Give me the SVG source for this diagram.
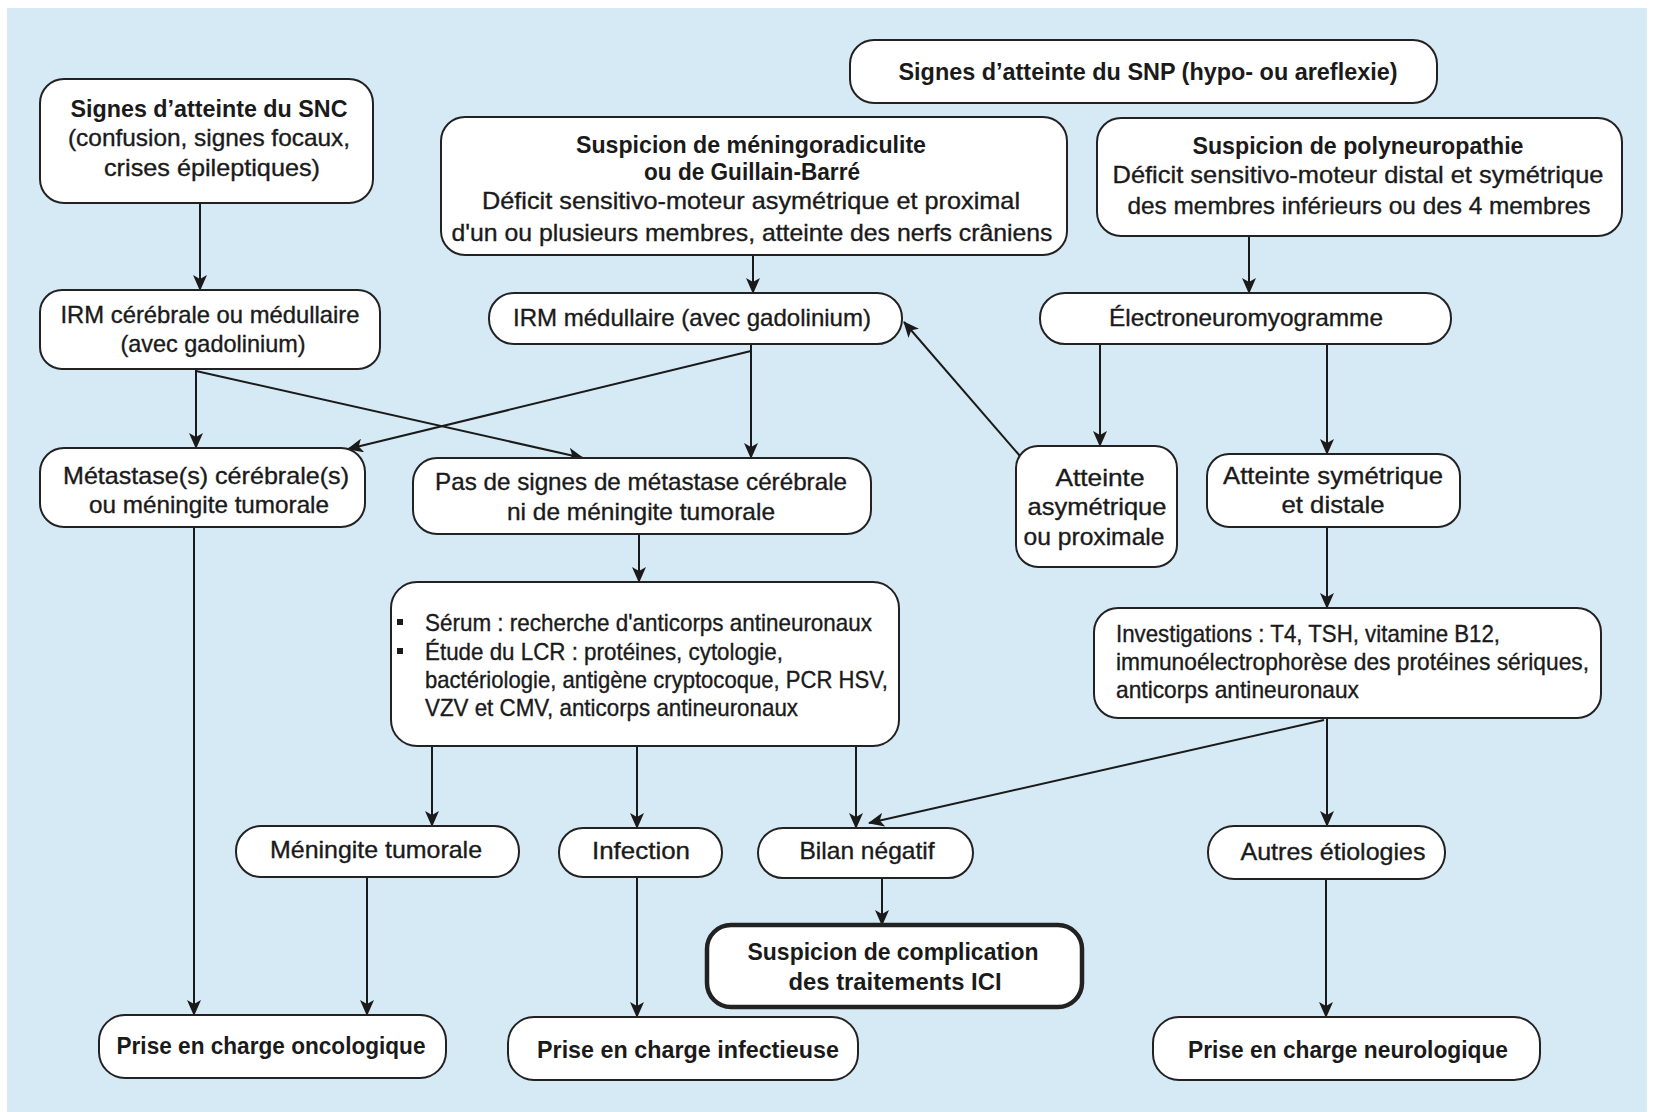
<svg xmlns="http://www.w3.org/2000/svg" width="1654" height="1112" viewBox="0 0 1654 1112">
<defs>
<style>
.bx{fill:#fff;stroke:#222;stroke-width:2}
.thick{stroke-width:4.5}
text{font-family:"Liberation Sans",Arial,sans-serif;font-size:24px;fill:#1a1a1a;stroke:#1a1a1a;stroke-width:0.35}
.c{text-anchor:middle}
.b{font-weight:bold;stroke-width:0}
.cn path{fill:none;stroke:#1a1a1a;stroke-width:2;marker-end:url(#ah)}
</style>
<marker id="ah" viewBox="0 0 16 14" refX="15" refY="7" markerWidth="16" markerHeight="14" markerUnits="userSpaceOnUse" orient="auto">
<path d="M0,0 L16,7 L0,14 L4,7 z" fill="#1a1a1a"/>
</marker>
</defs>
<rect x="0" y="0" width="1654" height="1112" fill="#fff"/>
<rect x="7" y="8" width="1640" height="1104" fill="#d6eaf5"/>

<g id="connectors" class="cn">
<path d="M200,203 V290"/>
<path d="M753,255 V293"/>
<path d="M1249,236 V293"/>
<path d="M196,369 V448"/>
<path d="M196,371 L583,458"/>
<path d="M751,351 L348,449"/>
<path d="M751,344 V458"/>
<path d="M1020,456 L904,322"/>
<path d="M1100,344 V446"/>
<path d="M1327,344 V454"/>
<path d="M1327,527 V608"/>
<path d="M639,534 V582"/>
<path d="M194,527 V1015"/>
<path d="M432,746 V826"/>
<path d="M637,746 V828"/>
<path d="M856,746 V828"/>
<path d="M1324,720 L869,823"/>
<path d="M1327,718 V826"/>
<path d="M367,877 V1015"/>
<path d="M637,877 V1017"/>
<path d="M882,878 V925"/>
<path d="M1326,879 V1017"/>
</g>

<g id="n_snp">
<rect class="bx" x="850" y="40" width="587" height="63" rx="24"/>
<text class="c b" x="1148" y="80" textLength="499" lengthAdjust="spacingAndGlyphs">Signes d’atteinte du SNP (hypo- ou areflexie)</text>
</g>
<g id="n_snc">
<rect class="bx" x="40" y="79" width="333" height="124" rx="24"/>
<text class="c b" x="209" y="117" textLength="277" lengthAdjust="spacingAndGlyphs">Signes d’atteinte du SNC</text>
<text class="c" x="209" y="146" textLength="282" lengthAdjust="spacingAndGlyphs">(confusion, signes focaux,</text>
<text class="c" x="212" y="176" textLength="216" lengthAdjust="spacingAndGlyphs">crises épileptiques)</text>
</g>
<g id="n_meningo">
<rect class="bx" x="441" y="117" width="626" height="138" rx="24"/>
<text class="c b" x="751" y="153" textLength="350" lengthAdjust="spacingAndGlyphs">Suspicion de méningoradiculite</text>
<text class="c b" x="752" y="180" textLength="216" lengthAdjust="spacingAndGlyphs">ou de Guillain-Barré</text>
<text class="c" x="751" y="209" textLength="538" lengthAdjust="spacingAndGlyphs">Déficit sensitivo-moteur asymétrique et proximal</text>
<text class="c" x="752" y="241" textLength="601" lengthAdjust="spacingAndGlyphs">d'un ou plusieurs membres, atteinte des nerfs crâniens</text>
</g>
<g id="n_poly">
<rect class="bx" x="1097" y="118" width="525" height="118" rx="24"/>
<text class="c b" x="1358" y="154" textLength="331" lengthAdjust="spacingAndGlyphs">Suspicion de polyneuropathie</text>
<text class="c" x="1358" y="183" textLength="491" lengthAdjust="spacingAndGlyphs">Déficit sensitivo-moteur distal et symétrique</text>
<text class="c" x="1359" y="214" textLength="463" lengthAdjust="spacingAndGlyphs">des membres inférieurs ou des 4 membres</text>
</g>
<g id="n_irmc">
<rect class="bx" x="40" y="290" width="340" height="79" rx="22"/>
<text class="c" x="210" y="323" textLength="299" lengthAdjust="spacingAndGlyphs">IRM cérébrale ou médullaire</text>
<text class="c" x="213" y="352" textLength="185" lengthAdjust="spacingAndGlyphs">(avec gadolinium)</text>
</g>
<g id="n_irmm">
<rect class="bx" x="489" y="293" width="413" height="51" rx="25"/>
<text class="c" x="692" y="326" textLength="358" lengthAdjust="spacingAndGlyphs">IRM médullaire (avec gadolinium)</text>
</g>
<g id="n_enmg">
<rect class="bx" x="1040" y="293" width="411" height="51" rx="25"/>
<text class="c" x="1246" y="326" textLength="274" lengthAdjust="spacingAndGlyphs">Électroneuromyogramme</text>
</g>
<g id="n_meta">
<rect class="bx" x="40" y="448" width="325" height="79" rx="24"/>
<text class="c" x="206" y="484" textLength="286" lengthAdjust="spacingAndGlyphs">Métastase(s) cérébrale(s)</text>
<text class="c" x="209" y="513" textLength="240" lengthAdjust="spacingAndGlyphs">ou méningite tumorale</text>
</g>
<g id="n_pas">
<rect class="bx" x="413" y="458" width="458" height="76" rx="24"/>
<text class="c" x="641" y="490" textLength="412" lengthAdjust="spacingAndGlyphs">Pas de signes de métastase cérébrale</text>
<text class="c" x="641" y="520" textLength="268" lengthAdjust="spacingAndGlyphs">ni de méningite tumorale</text>
</g>
<g id="n_asym">
<rect class="bx" x="1016" y="446" width="161" height="121" rx="22"/>
<text class="c" x="1100" y="486" textLength="89" lengthAdjust="spacingAndGlyphs">Atteinte</text>
<text class="c" x="1097" y="515" textLength="139" lengthAdjust="spacingAndGlyphs">asymétrique</text>
<text class="c" x="1094" y="545" textLength="141" lengthAdjust="spacingAndGlyphs">ou proximale</text>
</g>
<g id="n_sym">
<rect class="bx" x="1207" y="454" width="253" height="73" rx="22"/>
<text class="c" x="1333" y="484" textLength="220" lengthAdjust="spacingAndGlyphs">Atteinte symétrique</text>
<text class="c" x="1333" y="513" textLength="103" lengthAdjust="spacingAndGlyphs">et distale</text>
</g>
<g id="n_serum">
<rect class="bx" x="391" y="582" width="508" height="164" rx="26"/>
<rect x="397" y="619" width="6" height="6" fill="#1a1a1a"/>
<rect x="397" y="648" width="6" height="6" fill="#1a1a1a"/>
<text x="425" y="631" textLength="447" lengthAdjust="spacingAndGlyphs">Sérum : recherche d'anticorps antineuronaux</text>
<text x="425" y="660" textLength="358" lengthAdjust="spacingAndGlyphs">Étude du LCR  : protéines, cytologie,</text>
<text x="425" y="688" textLength="463" lengthAdjust="spacingAndGlyphs">bactériologie, antigène cryptocoque, PCR HSV,</text>
<text x="425" y="716" textLength="373" lengthAdjust="spacingAndGlyphs">VZV et CMV, anticorps antineuronaux</text>
</g>
<g id="n_invest">
<rect class="bx" x="1094" y="608" width="507" height="110" rx="24"/>
<text x="1116" y="642" textLength="384" lengthAdjust="spacingAndGlyphs">Investigations  : T4, TSH, vitamine B12,</text>
<text x="1116" y="670" textLength="473" lengthAdjust="spacingAndGlyphs">immunoélectrophorèse des protéines sériques,</text>
<text x="1116" y="698" textLength="243" lengthAdjust="spacingAndGlyphs">anticorps antineuronaux</text>
</g>
<g id="n_mtum">
<rect class="bx" x="236" y="826" width="283" height="51" rx="25"/>
<text class="c" x="376" y="858" textLength="212" lengthAdjust="spacingAndGlyphs">Méningite tumorale</text>
</g>
<g id="n_inf">
<rect class="bx" x="559" y="828" width="163" height="49" rx="24"/>
<text class="c" x="641" y="859" textLength="98" lengthAdjust="spacingAndGlyphs">Infection</text>
</g>
<g id="n_bilan">
<rect class="bx" x="758" y="828" width="215" height="50" rx="25"/>
<text class="c" x="867" y="859" textLength="135" lengthAdjust="spacingAndGlyphs">Bilan négatif</text>
</g>
<g id="n_autres">
<rect class="bx" x="1208" y="826" width="237" height="53" rx="26"/>
<text class="c" x="1333" y="860" textLength="185" lengthAdjust="spacingAndGlyphs">Autres étiologies</text>
</g>
<g id="n_ici">
<rect class="bx thick" x="707" y="925" width="375" height="82" rx="24"/>
<text class="c b" x="893" y="960" textLength="291" lengthAdjust="spacingAndGlyphs">Suspicion de complication</text>
<text class="c b" x="895" y="990" textLength="213" lengthAdjust="spacingAndGlyphs">des traitements ICI</text>
</g>
<g id="n_onco">
<rect class="bx" x="99" y="1015" width="347" height="63" rx="26"/>
<text class="c b" x="271" y="1054" textLength="309" lengthAdjust="spacingAndGlyphs">Prise en charge oncologique</text>
</g>
<g id="n_infect">
<rect class="bx" x="508" y="1017" width="350" height="63" rx="26"/>
<text class="c b" x="688" y="1058" textLength="302" lengthAdjust="spacingAndGlyphs">Prise en charge infectieuse</text>
</g>
<g id="n_neuro">
<rect class="bx" x="1153" y="1017" width="387" height="63" rx="26"/>
<text class="c b" x="1348" y="1058" textLength="320" lengthAdjust="spacingAndGlyphs">Prise en charge neurologique</text>
</g>
</svg>
